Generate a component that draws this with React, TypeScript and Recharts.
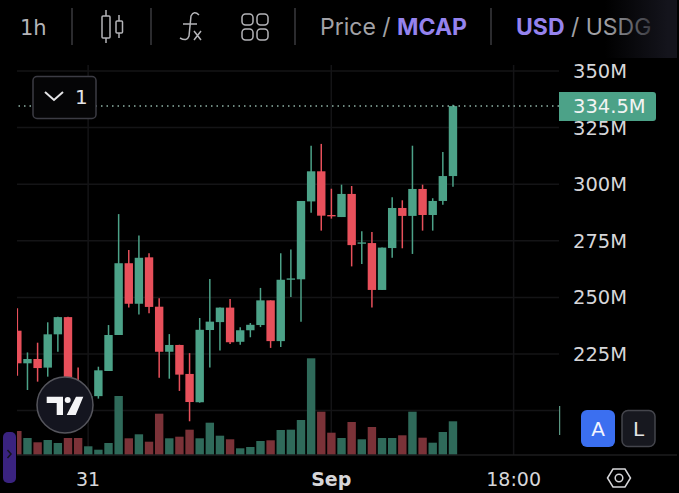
import { Bar, CartesianGrid, ComposedChart, ReferenceLine, XAxis, YAxis } from 'recharts'

const hours = Array.from({ length: 44 }, (_, i) => i)
const opens = [235.3, 220.9, 222.8, 219.0, 233.7, 241.3, 208.2, 203.8, 206.4, 217.5, 233.4, 265.1, 247.2, 267.7, 245.9, 226.0, 229.0, 216.2, 203.7, 235.6, 239.1, 245.5, 230.4, 235.5, 237.8, 248.7, 230.7, 257.8, 258.0, 292.4, 305.7, 286.4, 285.5, 295.7, 273.7, 274.0, 253.3, 271.8, 289.5, 286.0, 297.9, 286.4, 292.6, 303.6]
const highs = [245.2, 225.7, 230.0, 239.0, 241.5, 241.5, 219.0, 207.8, 219.4, 237.8, 286.8, 270.9, 277.4, 269.5, 249.6, 233.8, 229.1, 225.4, 240.9, 258.1, 245.5, 249.3, 236.8, 238.7, 254.2, 248.7, 269.5, 271.2, 292.6, 317.0, 317.8, 298.0, 299.8, 299.2, 279.2, 278.9, 272.0, 294.2, 292.9, 317.0, 299.8, 293.8, 314.2, 335.1]
const lows = [215.4, 209.1, 212.8, 215.0, 226.0, 206.4, 201.1, 199.4, 205.3, 217.5, 233.4, 245.6, 242.4, 243.0, 214.5, 214.1, 208.7, 195.3, 203.5, 219.0, 226.6, 229.4, 229.1, 232.4, 236.9, 227.7, 228.1, 250.2, 239.3, 287.4, 279.5, 284.8, 285.5, 263.7, 264.8, 245.6, 253.3, 267.5, 271.7, 269.2, 279.5, 279.5, 290.9, 298.9]
const closes = [220.9, 222.8, 218.8, 233.7, 241.3, 208.2, 203.8, 206.4, 217.8, 233.4, 265.1, 247.2, 267.5, 245.8, 226.0, 229.0, 215.9, 203.8, 235.7, 239.3, 245.5, 230.2, 235.5, 237.9, 248.7, 230.7, 257.8, 258.4, 292.6, 305.7, 286.1, 285.8, 295.7, 273.1, 274.3, 253.3, 272.0, 289.5, 286.0, 297.9, 286.4, 292.6, 303.6, 334.5]
const volumes = [24, 17, 12.7, 15, 12, 17, 17, 8.7, 5.3, 12, 59, 16.7, 20.7, 13.3, 41.3, 16.7, 18.3, 25.3, 16.7, 32.3, 19.3, 15.7, 6.7, 8, 14, 14.7, 25, 25.3, 35, 96.7, 43.3, 22.3, 17, 33, 15.7, 28, 17, 17, 19.7, 43.3, 17.3, 12.3, 23, 33.7]

const priceTicks = [225, 250, 275, 300, 325, 350]
const gridPrices = [200, 225, 250, 275, 300, 325, 350]
const timeTicks = [7, 31, 49]
const timeLabels: Record<number, string> = { 7: '31', 31: 'Sep', 49: '18:00' }
const lastPrice = 334.5

const rows = hours.map((hour, i) => ({
  hour,
  open: opens[i],
  high: highs[i],
  low: lows[i],
  close: closes[i],
  volume: volumes[i],
}))

const UP = '#4ca288'
const DOWN = '#e8505b'
const UP_VOL = '#2f6a5a'
const DOWN_VOL = '#7b3238'
const GRID = '#141416'
const LABEL = '#d6d6d9'
const PURPLE = '#9583ee'
const AXIS_FONT = '"DejaVu Sans", sans-serif'
const HEAD_FONT = 'Inter, sans-serif'

function Candle(props: any) {
  const { x, y, width, height, payload } = props
  const { open, high, low, close } = payload
  const pos = (v: number) => y + ((high - v) / (high - low)) * height
  const top = pos(Math.max(open, close))
  const bottom = pos(Math.min(open, close))
  const color = close >= open ? UP : DOWN
  return (
    <g>
      <line x1={x + width / 2} x2={x + width / 2} y1={y} y2={y + height} stroke={color} strokeWidth={1.5} />
      <rect x={x} y={top} width={width} height={Math.max(bottom - top, 1.2)} fill={color} />
    </g>
  )
}

function VolumeBar(props: any) {
  const { x, y, width, height, payload } = props
  return <rect x={x} y={y} width={width} height={height} fill={payload.close >= payload.open ? UP_VOL : DOWN_VOL} />
}

function TimeTick(props: any) {
  const { x, payload } = props
  return (
    <text
      x={x}
      y={486}
      textAnchor="middle"
      fill={LABEL}
      fontFamily={AXIS_FONT}
      fontSize={19}
      fontWeight={payload.value === 31 ? 700 : 400}
    >
      {timeLabels[payload.value]}
    </text>
  )
}

function PriceTag(props: any) {
  const { viewBox } = props
  const cx = viewBox.x + viewBox.width
  const cy = viewBox.y
  return (
    <g>
      <path
        d={`M${cx} ${cy - 14} H${cx + 94} a3 3 0 0 1 3 3 V${cy + 12} a3 3 0 0 1 -3 3 H${cx} Z`}
        fill={UP}
      />
      <text x={cx + 14} y={cy + 7} fill="#f2f4f3" fontFamily={AXIS_FONT} fontSize={19.5}>
        {lastPrice}M
      </text>
    </g>
  )
}

function Overlay() {
  return (
    <svg width={679} height={493} style={{ position: 'absolute', left: 0, top: 0, pointerEvents: 'none' }}>
      <defs>
        <linearGradient id="fade" gradientUnits="userSpaceOnUse" x1={605} x2={668} y1={0} y2={0}>
          <stop offset="0" stopColor="#14141c" stopOpacity={0} />
          <stop offset="1" stopColor="#14141c" stopOpacity={1} />
        </linearGradient>
      </defs>

      {/* toolbar */}
      <text x={20} y={35} fill="#b4b4b8" fontFamily={AXIS_FONT} fontSize={21}>1h</text>
      {[72, 151, 295, 491].map((x) => (
        <line key={x} x1={x} x2={x} y1={8} y2={45} stroke="#3a3a3e" strokeWidth={1.5} />
      ))}
      <g stroke="#b4b4b8" strokeWidth={1.5} fill="none">
        <rect x={102} y={16} width={8} height={22} rx={1} />
        <path d="M106 10 V16 M106 38 V43" />
        <rect x={116} y={21} width={6.5} height={12} rx={1} />
        <path d="M119 15 V21 M119 33 V38" />
        <path d="M199 15 Q194 10 191 16 L189 36 Q187 42 180 38 M183 24 H197" />
        <path d="M194 31 L201 40 M201 31 L194 40" />
        <rect x={242} y={14} width={11} height={11} rx={3.5} />
        <rect x={257} y={14} width={11} height={11} rx={3.5} />
        <rect x={242} y={29} width={11} height={11} rx={3.5} />
        <rect x={257} y={29} width={11} height={11} rx={3.5} />
      </g>
      <text x={320} y={35} fontFamily={HEAD_FONT} fontSize={23} fill="#a2a2a6">
        Price / <tspan fill={PURPLE} fontWeight={700}>MCAP</tspan>
      </text>
      <text x={516} y={35} fontFamily={HEAD_FONT} fontSize={23} fill="#a2a2a6">
        <tspan fill={PURPLE} fontWeight={700}>USD</tspan> / USDG
      </text>
      <rect x={600} y={0} width={77} height={58} fill="url(#fade)" />

      {/* collapsed studies box */}
      <rect x={33} y={76.5} width={63} height={42} rx={4} fill="#050506" stroke="#3c3c44" strokeWidth={1.5} />
      <path d="M45 92 L54 100 L63 92" fill="none" stroke="#e4e4e6" strokeWidth={2} />
      <text x={75} y={104} fill="#e4e4e6" fontFamily={AXIS_FONT} fontSize={20}>1</text>

      {/* logo */}
      <circle cx={65} cy={405} r={28} fill="#14151f" stroke="#55555c" strokeWidth={1.5} />
      <path d="M46.7 396.7 H63 V415 H56.7 V403 H46.7 Z M76 396.7 H83.3 L75.7 415 H66.7 Z" fill="#f4f4f6" />
      <circle cx={67.7} cy={400} r={3} fill="#f4f4f6" />

      {/* left tab */}
      <path d="M3 437 a5 5 0 0 1 5 -5 h3 a5 5 0 0 1 5 5 V478 a5 5 0 0 1 -5 5 h-3 a5 5 0 0 1 -5 -5 Z" fill="#3a2380" />
      <path d="M7.5 450 L11 454 L7.5 458" fill="none" stroke="#15151c" strokeWidth={1.5} />

      {/* last volume edge and bottom line */}
      <line x1={559.7} x2={559.7} y1={406} y2={435} stroke="#6fb9a0" strokeWidth={1} />
      <line x1={559} x2={677} y1={455} y2={455} stroke="#1c1c1e" strokeWidth={1.5} />

      {/* auto and log buttons */}
      <rect x={581} y={410} width={34} height={37} rx={6} fill="#3b6ff0" />
      <text x={598} y={436} textAnchor="middle" fill="#f2f4ff" fontFamily={AXIS_FONT} fontSize={20}>A</text>
      <rect x={622} y={410.5} width={33} height={36} rx={6} fill="#17181f" stroke="#44454c" strokeWidth={1.5} />
      <text x={638.5} y={436} textAnchor="middle" fill="#e4e4e6" fontFamily={AXIS_FONT} fontSize={20}>L</text>

      {/* settings */}
      <path d="M607.5 478 L613 469 H625 L630.5 478 L625 487 H613 Z" fill="none" stroke="#d6d6d9" strokeWidth={1.5} />
      <circle cx={619} cy={478} r={3.8} fill="none" stroke="#d6d6d9" strokeWidth={1.5} />
    </svg>
  )
}

export default function App() {
  return (
    <div style={{ position: 'fixed', left: 0, top: 0, width: 679, height: 493, background: '#000', overflow: 'hidden' }}>
      <ComposedChart width={679} height={493} data={rows} margin={{ top: 65, right: 0, bottom: 0, left: 17 }}>
        <CartesianGrid stroke={GRID} strokeWidth={1.5} horizontalValues={gridPrices} verticalValues={timeTicks} />
        <XAxis
          dataKey="hour"
          type="number"
          domain={[-0.02, 53.48]}
          ticks={timeTicks}
          interval={0}
          allowDataOverflow
          height={38}
          axisLine={{ stroke: '#1c1c1e', strokeWidth: 1.5 }}
          tickLine={false}
          tick={<TimeTick />}
        />
        <XAxis dataKey="hour" xAxisId="vol" type="number" domain={[-0.02, 53.48]} allowDataOverflow hide />
        <YAxis
          orientation="right"
          width={120}
          domain={[180.4, 352.65]}
          ticks={priceTicks}
          interval={0}
          allowDataOverflow
          axisLine={false}
          tickLine={false}
          tickMargin={8}
          tickFormatter={(v: number) => `${v}M`}
          tick={{ fill: LABEL, fontSize: 19.5, fontFamily: AXIS_FONT }}
        />
        <YAxis yAxisId="vol" orientation="left" width={0} hide domain={[0, 390]} />
        <Bar
          xAxisId="vol"
          yAxisId="vol"
          dataKey="volume"
          barSize={8.4}
          shape={<VolumeBar />}
          isAnimationActive={false}
        />
        <Bar
          dataKey={(d: any) => [d.low, d.high]}
          barSize={8.4}
          shape={<Candle />}
          isAnimationActive={false}
        />
        <ReferenceLine
          y={lastPrice}
          stroke="#8fb3a6"
          strokeWidth={1.5}
          strokeDasharray="1.5 4"
          label={<PriceTag />}
        />
      </ComposedChart>
      <Overlay />
    </div>
  )
}
